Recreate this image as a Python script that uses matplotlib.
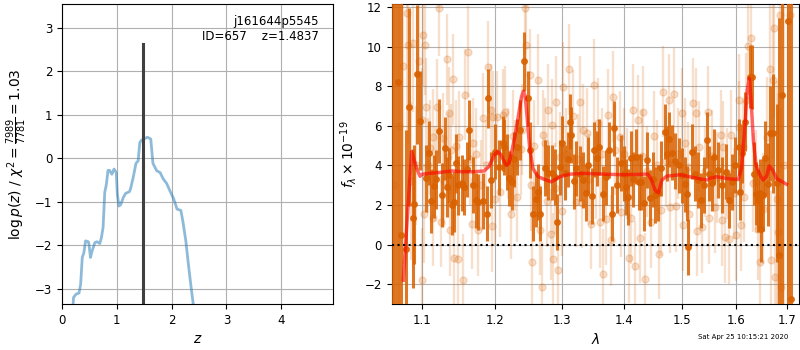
import matplotlib
matplotlib.use('Agg')
from matplotlib import ticker
import matplotlib.pyplot as plt
import numpy as np

# p(z) curve
z_grid = [0.20, 0.21, 0.26, 0.31, 0.34, 0.37, 0.40, 0.43, 0.48, 0.49, 0.52, 0.55, 0.60, 0.64,
          0.69, 0.72, 0.75, 0.78, 0.81, 0.84, 0.87, 0.91, 0.95, 0.99, 1.01, 1.04, 1.07, 1.12,
          1.16, 1.23, 1.25, 1.30, 1.35, 1.39, 1.42, 1.45, 1.49, 1.56, 1.62, 1.66, 1.73, 1.79,
          1.85, 1.91, 1.97, 2.04, 2.10, 2.17, 2.21, 2.26, 2.30, 2.35, 2.40]
log_pz = [-3.40, -3.20, -3.12, -3.10, -2.90, -2.28, -2.17, -1.90, -1.92, -1.96, -2.28, -2.13,
          -1.94, -1.92, -1.96, -1.82, -1.59, -0.79, -0.60, -0.28, -0.28, -0.37, -0.25, -0.33,
          -0.83, -1.10, -1.07, -0.90, -0.81, -0.77, -0.71, -0.44, -0.12, -0.06, 0.36, 0.41,
          0.44, 0.48, 0.44, -0.12, -0.29, -0.33, -0.48, -0.58, -0.75, -0.94, -1.17, -1.20,
          -1.48, -1.90, -2.36, -2.90, -3.40]
z_best = 1.4837
pz_peak = 2.63

# spectrum, darker set (lambda, flux, err)
wave_a = [1.0617, 1.0655, 1.0694, 1.0733, 1.0797, 1.0836, 1.0884, 1.0905, 1.0944, 1.0978,
          1.1057, 1.1092, 1.1125, 1.1161, 1.1183, 1.1230, 1.1270, 1.1306, 1.1335, 1.1363,
          1.1403, 1.1426, 1.1455, 1.1484, 1.1538, 1.1569, 1.1610, 1.1642, 1.1690, 1.1736,
          1.1768, 1.1830, 1.1886, 1.1908, 1.1943, 1.2009, 1.2060, 1.2115, 1.2134, 1.2173,
          1.2211, 1.2246, 1.2285, 1.2320, 1.2369, 1.2428, 1.2487, 1.2517, 1.2557, 1.2606,
          1.2641, 1.2667, 1.2742, 1.2792, 1.2843, 1.2893, 1.2928, 1.2970, 1.3010, 1.3045,
          1.3098, 1.3135, 1.3150, 1.3190, 1.3227, 1.3286, 1.3338, 1.3380, 1.3418, 1.3472,
          1.3510, 1.3553, 1.3596, 1.3661, 1.3710, 1.3758, 1.3807, 1.3834, 1.3889, 1.3946,
          1.4000, 1.4040, 1.4073, 1.4128, 1.4160, 1.4198, 1.4254, 1.4293, 1.4337, 1.4387,
          1.4443, 1.4490, 1.4529, 1.4587, 1.4632, 1.4700, 1.4740, 1.4780, 1.4822, 1.4880,
          1.4960, 1.5010, 1.5058, 1.5088, 1.5120, 1.5178, 1.5238, 1.5296, 1.5357, 1.5410,
          1.5458, 1.5505, 1.5550, 1.5595, 1.5673, 1.5735, 1.5808, 1.5870, 1.5930, 1.5992,
          1.6055, 1.6074, 1.6118, 1.6182, 1.6266, 1.6310, 1.6349, 1.6393, 1.6439, 1.6478,
          1.6497, 1.6522, 1.6566, 1.6618, 1.6670, 1.6720, 1.6800, 1.6855, 1.6898, 1.7025,
          1.7093]
flux_a = [15.0, -5.0, 8.2, 0.5, -0.2, 6.95, 1.33, 2.04, 8.6, 6.26,
          3.35, 4.62, 2.2, 2.95, 3.3, 5.74, 2.5, 4.87, 2.9, 3.5,
          1.99, 2.15, 4.1, 3.0, 3.12, 2.92, 3.8, 5.79, 3.0, 2.24,
          2.16, 2.2, 1.57, 7.39, 3.26, 4.69, 3.9, 5.11, 4.94, 4.18,
          3.34, 3.17, 4.3, 4.94, 5.79, 9.25, 7.39, 4.77, 1.57, 2.28,
          2.66, 1.57, 3.88, 3.63, 3.63, 3.42, 1.14, 3.9, 5.11, 3.63,
          4.30, 6.21, 5.53, 3.2, 3.85, 3.59, 3.26, 2.6, 4.02, 2.45,
          4.8, 4.35, 4.94, 2.58, 3.4, 4.77, 1.57, 5.87, 3.0, 4.13,
          3.59, 2.9, 2.41, 4.35, 3.3, 4.44, 3.17, 3.17, 2.08, 4.27,
          2.36, 3.3, 2.5, 2.61, 3.85, 5.70, 4.6, 5.32, 4.64, 4.23,
          4.0, 3.5, 3.05, 2.58, -0.12, 4.69, 3.59, 3.26, 2.24, 3.0,
          5.28, 3.59, 3.1, 4.44, 3.76, 3.0, 3.68, 2.24, 3.17, 4.02,
          4.94, 2.66, 4.61, 6.21, 8.49, 8.46, 3.59, 2.58, 2.24, 2.61,
          0.81, 2.5, 4.35, 3.05, 5.62, 5.62, 3.1, -0.54, 7.56, 11.27,
          -2.77]
err_a = [20, 18, 15, 12, 6, 5, 3.5, 3, 3.5, 2.5,
         1.7, 1.6, 1.6, 1.6, 1.5, 1.6, 1.6, 1.6, 1.5, 1.4,
         1.5, 1.5, 1.5, 1.5, 1.4, 1.4, 1.4, 1.5, 1.4, 1.4,
         1.4, 1.4, 1.4, 1.5, 1.4, 1.4, 1.4, 1.4, 1.4, 1.4,
         1.4, 1.4, 1.4, 1.4, 1.5, 1.5, 1.4, 1.4, 1.4, 1.4,
         1.4, 1.4, 1.4, 1.4, 1.4, 1.4, 1.4, 1.4, 1.4, 1.4,
         1.4, 1.4, 1.4, 1.4, 1.4, 1.4, 1.4, 1.4, 1.4, 1.4,
         1.4, 1.4, 1.4, 1.4, 1.4, 1.4, 1.4, 1.4, 1.4, 1.4,
         1.4, 1.4, 1.4, 1.4, 1.4, 1.4, 1.4, 1.4, 1.4, 1.4,
         1.4, 1.4, 1.4, 1.4, 1.4, 1.4, 1.4, 1.4, 1.4, 1.4,
         1.4, 1.4, 1.4, 1.4, 1.4, 1.4, 1.4, 1.4, 1.4, 1.4,
         1.4, 1.4, 1.4, 1.4, 1.4, 1.4, 1.4, 1.4, 1.4, 1.4,
         1.4, 1.4, 1.5, 1.5, 1.6, 1.6, 1.6, 1.6, 1.6, 1.7,
         1.7, 1.8, 1.9, 2.1, 2.4, 3.0, 4.0, 12, 14, 18,
         20]

# spectrum, lighter set
wave_b = [1.0640, 1.0710, 1.0760, 1.0805, 1.0826, 1.0860, 1.0891, 1.0920, 1.0965, 1.1000,
          1.1010, 1.1020, 1.1025, 1.1042, 1.1050, 1.1080, 1.1110, 1.1144, 1.1150, 1.1175,
          1.1204, 1.1236, 1.1258, 1.1282, 1.1300, 1.1333, 1.1350, 1.1369, 1.1372, 1.1395,
          1.1412, 1.1438, 1.1460, 1.1480, 1.1503, 1.1560, 1.1585, 1.1628, 1.1650, 1.1675,
          1.1700, 1.1740, 1.1768, 1.1800, 1.1830, 1.1870, 1.1908, 1.1943, 1.1958, 1.1980,
          1.2006, 1.2027, 1.2077, 1.2115, 1.2147, 1.2190, 1.2234, 1.2270, 1.2300, 1.2330,
          1.2378, 1.2400, 1.2443, 1.2458, 1.2517, 1.2530, 1.2545, 1.2580, 1.2641, 1.2670,
          1.2692, 1.2707, 1.2742, 1.2770, 1.2792, 1.2828, 1.2843, 1.2860, 1.2893, 1.2907,
          1.2938, 1.2970, 1.2999, 1.3024, 1.3070, 1.3116, 1.3176, 1.3216, 1.3250, 1.3286,
          1.3320, 1.3338, 1.3391, 1.3430, 1.3461, 1.3510, 1.3540, 1.3580, 1.3600, 1.3640,
          1.3661, 1.3700, 1.3740, 1.3780, 1.3823, 1.3860, 1.3930, 1.3960, 1.4010, 1.4060,
          1.4090, 1.4120, 1.4154, 1.4183, 1.4230, 1.4270, 1.4310, 1.4331, 1.4350, 1.4400,
          1.4460, 1.4511, 1.4560, 1.4600, 1.4640, 1.4669, 1.4720, 1.4775, 1.4790, 1.4863,
          1.4900, 1.4940, 1.4999, 1.5020, 1.5058, 1.5120, 1.5140, 1.5208, 1.5250, 1.5270,
          1.5320, 1.5370, 1.5420, 1.5476, 1.5500, 1.5560, 1.5600, 1.5640, 1.5716, 1.5735,
          1.5750, 1.5800, 1.5840, 1.5880, 1.5900, 1.5960, 1.6000, 1.6055, 1.6068, 1.6100,
          1.6140, 1.6160, 1.6200, 1.6235, 1.6299, 1.6340, 1.6400, 1.6430, 1.6460, 1.6530,
          1.6605, 1.6670, 1.6680, 1.6720, 1.6748, 1.6770, 1.6800, 1.6830, 1.6865, 1.6880,
          1.6950, 1.7067]
flux_b = [3.0, 6.0, 9.0, 11.7, 10.1, 3.2, 10.18, 4.0, 9.25, 6.3,
          -1.77, 10.6, 1.57, 10.06, 6.95, 4.0, 4.9, 5.45, 1.33, 3.6,
          6.97, 11.95, 1.15, 5.38, 3.2, 9.37, 4.4, 6.66, 0.72, 4.8,
          8.35, -0.68, 5.0, -0.71, 5.45, -1.77, 7.56, 9.75, 4.3, 1.06,
          5.11, 4.6, 0.72, 3.0, 6.38, 4.0, 8.99, 6.80, 0.93, 6.46,
          2.28, 6.46, 2.66, 6.55, 6.71, 4.6, 1.57, 5.5, 4.0, 2.41,
          4.81, 5.8, 11.95, 10.09, 8.57, 3.0, -0.88, 5.0, 8.32, 0.76,
          -2.15, 5.53, 5.11, 2.2, 6.80, 0.52, 6.04, -0.71, 2.84, 7.22,
          -1.27, 4.4, 1.70, 7.95, 4.6, 8.86, 6.50, 2.16, 4.3, 7.22,
          2.11, 5.79, 5.62, 3.3, 1.06, 8.07, 3.6, 6.13, 1.14, 4.6,
          -1.50, 1.27, 6.55, 0.22, 7.47, 4.8, 5.45, 1.65, 4.6, 3.6,
          -0.66, 1.32, 6.80, -1.10, 6.29, 0.35, 4.5, 6.71, -1.72, 3.7,
          1.14, 5.48, 4.0, -0.46, 1.74, 7.73, 4.2, 7.31, 1.90, 7.61,
          1.94, 4.6, 6.63, 0.98, 5.11, 3.9, 1.57, 7.14, 6.63, 0.69,
          4.94, 0.89, 3.7, 6.71, 1.32, 4.5, 1.90, 3.4, 5.53, 1.23,
          4.94, 0.38, 3.6, 0.30, 5.53, 2.6, 0.47, 7.31, 5.95, 0.98,
          4.94, 2.41, 7.3, 10.04, 10.43, 3.12, 3.17, 0.81, -0.88, 1.82,
          5.45, 8.86, -0.79, 8.32, 10.94, -1.64, 2.28, 0.64, 11.6, -2.15,
          4.0, 11.6]
err_b = [20, 15, 10, 6, 5, 4, 3.5, 3, 3, 2.6,
         2.6, 2.6, 2.5, 2.5, 2.5, 2.4, 2.4, 2.4, 2.4, 2.4,
         2.4, 2.4, 2.3, 2.3, 2.3, 2.3, 2.3, 2.3, 2.3, 2.3,
         2.3, 2.3, 2.3, 2.3, 2.3, 2.3, 2.3, 2.3, 2.3, 2.3,
         2.3, 2.3, 2.3, 2.3, 2.3, 2.3, 2.3, 2.3, 2.3, 2.3,
         2.3, 2.3, 2.3, 2.3, 2.3, 2.3, 2.3, 2.3, 2.3, 2.3,
         2.3, 2.3, 2.3, 2.3, 2.3, 2.3, 2.3, 2.3, 2.3, 2.3,
         2.3, 2.3, 2.3, 2.3, 2.3, 2.3, 2.3, 2.3, 2.3, 2.3,
         2.3, 2.3, 2.3, 2.3, 2.3, 2.3, 2.3, 2.3, 2.3, 2.3,
         2.3, 2.3, 2.3, 2.3, 2.3, 2.3, 2.3, 2.3, 2.3, 2.3,
         2.3, 2.3, 2.3, 2.3, 2.3, 2.3, 2.3, 2.3, 2.3, 2.3,
         2.3, 2.3, 2.3, 2.3, 2.3, 2.3, 2.3, 2.3, 2.3, 2.3,
         2.3, 2.3, 2.3, 2.3, 2.3, 2.3, 2.3, 2.3, 2.3, 2.3,
         2.3, 2.3, 2.3, 2.3, 2.3, 2.3, 2.3, 2.3, 2.3, 2.3,
         2.3, 2.3, 2.3, 2.3, 2.3, 2.3, 2.3, 2.3, 2.3, 2.3,
         2.3, 2.3, 2.3, 2.3, 2.3, 2.3, 2.3, 2.3, 2.3, 2.3,
         2.3, 2.3, 2.4, 2.5, 2.5, 2.5, 2.6, 2.6, 2.7, 2.8,
         3.0, 3.5, 3.5, 4, 4.5, 5, 6, 7, 8, 9,
         12, 15]

# best-fit model
wave_m = [1.0761, 1.0815, 1.0869, 1.0930, 1.0978, 1.1000, 1.1100, 1.1250, 1.1400, 1.1550,
          1.1700, 1.1850, 1.1920, 1.1990, 1.2040, 1.2090, 1.2130, 1.2170, 1.2210, 1.2260,
          1.2300, 1.2345, 1.2390, 1.2420, 1.2445, 1.2475, 1.2510, 1.2560, 1.2640, 1.2740,
          1.2840, 1.2970, 1.3130, 1.3340, 1.3660, 1.3990, 1.4410, 1.4470, 1.4530, 1.4590,
          1.4650, 1.4735, 1.4970, 1.5210, 1.5450, 1.5510, 1.5640, 1.5830, 1.6050, 1.6110,
          1.6175, 1.6220, 1.6260, 1.6290, 1.6340, 1.6390, 1.6470, 1.6530, 1.6600, 1.6650,
          1.6720, 1.6800, 1.6970, 1.7000]
flux_m = [-1.8, 1.5, 4.7, 3.9, 3.45, 3.55, 3.6, 3.65, 3.72, 3.68,
          3.68, 3.72, 3.95, 4.5, 4.7, 4.55, 4.25, 4.0, 4.15, 4.9,
          5.6, 6.5, 7.45, 7.75, 7.5, 6.4, 4.95, 3.85, 3.43, 3.29,
          3.17, 3.43, 3.56, 3.6, 3.56, 3.53, 3.56, 3.26, 2.75, 2.62,
          3.26, 3.46, 3.53, 3.39, 3.26, 3.34, 3.43, 3.34, 3.29, 3.85,
          5.96, 7.81, 8.4, 7.48, 5.28, 4.02, 3.51, 3.26, 3.46, 3.97,
          3.76, 3.34, 3.09, 3.05]

wave_ticks = [1.1, 1.2, 1.3, 1.4, 1.5, 1.6, 1.7]

plt.rcParams['font.size'] = 8.5
fig = plt.figure(figsize=(8, 3.5), dpi=100)
ax1 = fig.add_axes([0.0775, 0.1314, 0.339, 0.857])
ax2 = fig.add_axes([0.4896, 0.1314, 0.509, 0.857])

# left: p(z)
ax1.plot(z_grid, log_pz, color='tab:blue', alpha=0.5, lw=2)
ax1.plot([z_best, z_best], [-4, pz_peak], color='0.25', lw=2.2)
ax1.set_xlim(0, 4.95)
ax1.set_ylim(-3.35, 3.54)
ax1.set_xlabel('$z$', fontsize=10)
ax1.set_ylabel(r'$\log p(z)$ / $\chi^2=\frac{7989}{7781}=1.03$', fontsize=10)
ax1.grid(True)
ax1.text(0.948, 0.965, 'j161644p5545\nID=657    z=1.4837', transform=ax1.transAxes,
         ha='right', va='top', fontsize=8.5)

# right: spectrum
orange = (0.85, 0.38, 0.0)
ax2.errorbar(wave_b, flux_b, yerr=err_b, color=orange, alpha=0.2, marker='o', ms=5,
             ls='none', elinewidth=1.7, zorder=2)
ax2.errorbar(wave_a, flux_a, yerr=err_a, color=orange, alpha=0.85, marker='o', ms=4,
             ls='none', elinewidth=2.2, zorder=3)
ax2.plot(wave_m, flux_m, color='red', alpha=0.6, lw=2.5, zorder=5)
ax2.axhline(0, color='k', ls=':', lw=1.5, zorder=6)

ax2.set_xscale('log')
ax2.xaxis.set_major_locator(ticker.FixedLocator(wave_ticks))
ax2.xaxis.set_major_formatter(ticker.FormatStrFormatter('%.1f'))
ax2.xaxis.set_minor_locator(ticker.NullLocator())
ax2.set_xlim(1.0613, 1.7251)
ax2.set_ylim(-3.0, 12.15)
ax2.set_yticks([-2, 0, 2, 4, 6, 8, 10, 12])
ax2.set_xlabel(r'$\lambda$', fontsize=10)
ax2.set_ylabel(r'$f_\lambda\times10^{-19}$', fontsize=10)
ax2.grid(True)

fig.text(0.873, 0.028, 'Sat Apr 25 10:15:21 2020', fontsize=5, ha='left', va='bottom')

fig.savefig('out.png', dpi=100)
